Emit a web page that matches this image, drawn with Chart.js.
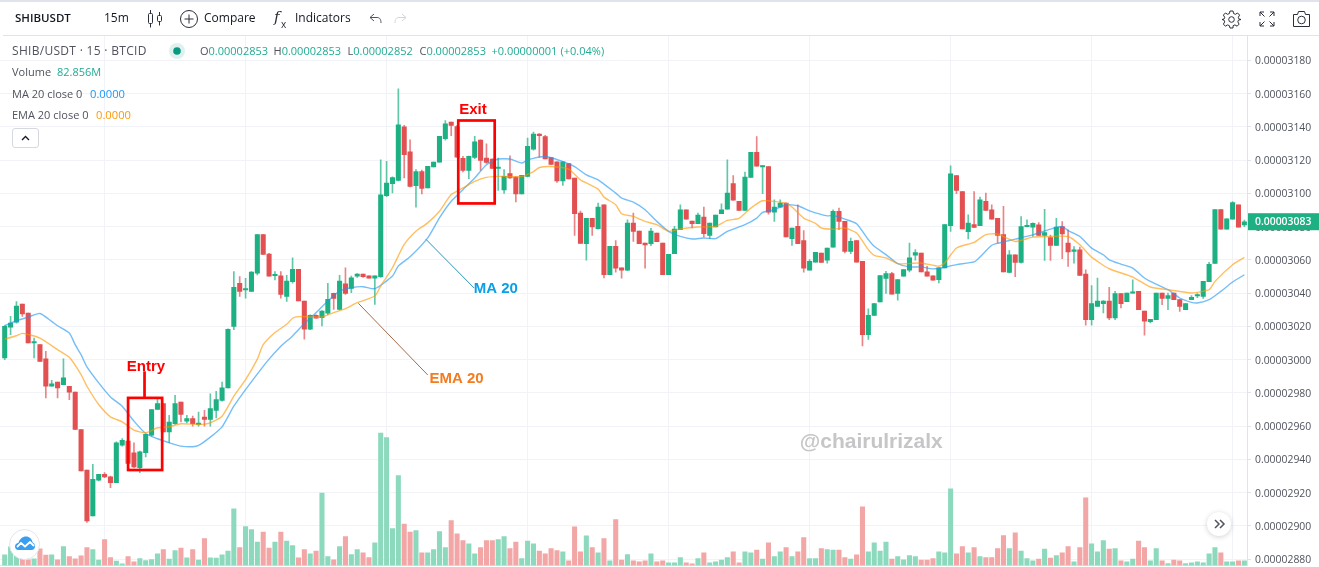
<!DOCTYPE html>
<html>
<head>
<meta charset="utf-8">
<title>SHIBUSDT</title>
<script src="https://cdn.jsdelivr.net/npm/chart.js@4"></script>
<style>
html,body{margin:0;padding:0;background:#fff;overflow:hidden;width:1319px;height:567px}
#c{position:absolute;left:0;top:0}
.t{position:absolute;white-space:pre;font-family:"Open Sans",sans-serif;font-size:11px;line-height:16px;color:#50535e}
.b{font-size:12px;color:#131722}
.g{color:#22ab94}
svg{position:absolute;overflow:visible}
#topline{position:absolute;left:0;top:0;width:1319px;height:2px;background:#e0e3eb}
#headline{position:absolute;left:3px;top:35px;width:1316px;height:1px;background:#e0e3eb}
#collapse{position:absolute;left:12px;top:128px;width:25px;height:18px;border:1px solid #d6d8e0;border-radius:3px;background:#fff}
#logo{position:absolute;left:9px;top:529px;width:29px;height:29px;border:1px solid #e3e5ea;border-radius:50%;background:#fff}
#next{position:absolute;left:1207px;top:512px;width:24px;height:24px;border-radius:50%;background:#fff;box-shadow:0 1px 5px rgba(40,50,70,.22)}
</style>
</head>
<body>
<canvas id="c" width="1319" height="567"></canvas>
<div id="topline"></div><div id="headline"></div>

<div class="t b" style="left:15px;top:10px;font-weight:600;font-size:11.5px">SHIBUSDT</div>
<div class="t b" style="left:104px;top:10px">15m</div>
<svg style="left:147px;top:10px" width="16" height="18" fill="none" stroke="#2a2e39" stroke-width="1"><rect x="1.5" y="3.5" width="4" height="10" rx="1"/><path d="M3.5 0v3.5M3.5 13.5v4"/><rect x="10.5" y="5.5" width="4" height="6" rx="1"/><path d="M12.5 2v3.5M12.5 11.5v4"/></svg>
<svg style="left:180px;top:10px" width="18" height="18" fill="none" stroke="#2a2e39" stroke-width="1"><circle cx="9" cy="9" r="8.5"/><path d="M9 4.5v9M4.5 9h9"/></svg>
<div class="t b" style="left:204px;top:10px">Compare</div>
<div class="t" style="left:274px;top:9px;color:#2a2e39;font-family:'DejaVu Serif',serif;font-style:italic;font-size:15px">f</div>
<div class="t" style="left:281px;top:16px;color:#2a2e39;font-size:10px">x</div>
<div class="t b" style="left:295px;top:10px">Indicators</div>
<svg style="left:369px;top:13px" width="13" height="11" fill="none" stroke="#50535e" stroke-width="1"><path d="M5 1L1 4.5 5 8M1 4.5h7c2.5 0 4 1.500 4 5.500"/></svg>
<svg style="left:394px;top:13px" width="13" height="11" fill="none" stroke="#d1d4dc" stroke-width="1"><path d="M8 1l4 3.500L8 8M12 4.500H5C2.500 4.500 1 6 1 10"/></svg>
<svg style="left:1222px;top:10px" width="19" height="19" fill="none" stroke="#2a2e39" stroke-width="1"><circle cx="9.500" cy="9.500" r="2.800"/><path d="M8 1h3l.6 2.500 1.800.8 2.200-1.300 2 2.100-1.300 2.200.7 1.800L19 9.500v0l-2.500.6-.7 1.800 1.300 2.200-2 2.100-2.200-1.300-1.800.8L11 18H8l-.6-2.300-1.800-.8-2.200 1.300-2-2.100 1.300-2.200-.7-1.800L0 9.500v0l2-.4.7-1.800L1.400 5.100l2-2.100 2.200 1.300 1.800-.8z"/></svg>
<svg style="left:1259px;top:11px" width="16" height="16" fill="none" stroke="#2a2e39" stroke-width="1"><path d="M1 5V1h4M1 1l4.500 4.500M11 1h4v4M15 1l-4.500 4.500M1 11v4h4M1 15l4.500-4.500M15 11v4h-4M15 15l-4.500-4.500"/></svg>
<svg style="left:1292px;top:10px" width="19" height="18" fill="none" stroke="#2a2e39" stroke-width="1"><path d="M1.500 4.500h4l1-3h6l1 3h4v12h-16z" stroke-linejoin="round"/><circle cx="9.500" cy="10" r="3.800"/></svg>

<div class="t" style="left:12px;top:43px;font-size:12px;letter-spacing:.3px">SHIB/USDT · 15 · BTCID</div>
<svg style="left:169px;top:43px" width="16" height="16"><circle cx="8" cy="8" r="8" fill="#dff1ee"/><circle cx="8" cy="8" r="3.800" fill="#089981"/></svg>
<div class="t" style="left:200px;top:43px">O<span class="g">0.00002853</span></div>
<div class="t" style="left:273.500px;top:43px">H<span class="g">0.00002853</span></div>
<div class="t" style="left:347.500px;top:43px">L<span class="g">0.00002852</span></div>
<div class="t" style="left:419.500px;top:43px">C<span class="g">0.00002853</span></div>
<div class="t g" style="left:491.500px;top:43px">+0.00000001</div>
<div class="t g" style="left:560.500px;top:43px">(+0.04%)</div>
<div class="t" style="left:12px;top:64px">Volume</div>
<div class="t g" style="left:57px;top:64px">82.856M</div>
<div class="t" style="left:12px;top:86px">MA 20 close 0</div>
<div class="t" style="left:90px;top:86px;font-size:11.2px;color:#2196f3">0.0000</div>
<div class="t" style="left:12px;top:107px">EMA 20 close 0</div>
<div class="t" style="left:96px;top:107px;font-size:11.2px;color:#ff9800">0.0000</div>
<div id="collapse"><svg style="left:8px;top:6px" width="9" height="6" fill="none" stroke="#131722" stroke-width="1.300"><path d="M1 5l3.500-3.500L8 5"/></svg></div>
<div id="logo"><svg style="left:5px;top:6px" width="20" height="15" viewBox="0 0 20 15"><path d="M3.500 14C1 14 0 12 0 10.500 0 8.500 1.500 7 3.500 6.800 4.500 3 7.500 0.500 11 0.500c3.500 0 6 2.500 6.500 5.700 1.500.6 2.500 2.300 2.500 4 0 2-1.500 3.800-3.500 3.800z" fill="#3a9ef0"/><path d="M2 11l4-4 4 3.500 5-4.500 4 4" fill="none" stroke="#fff" stroke-width="1.800"/></svg></div>
<div id="next"><svg style="left:7px;top:7px" width="11" height="10" fill="none" stroke="#50535e" stroke-width="1.500"><path d="M1 1l4 4-4 4M6 1l4 4-4 4"/></svg></div>

<script>
// Prices are in units of 0.00000001 USDT.
const opens = [
3001,3019.5,3022.5,3033.5,3028,3010,3009,3000.5,2984,2986.5,
2985,2984,2980.5,2958,2933.5,2906,2927.5,2931,2929.5,2926,
2948.5,2951,2944,2935,2944,2954.5,2970,2973.5,2956.5,2961.5,
2974.5,2963,2964.5,2961,2965.5,2964,2969.5,2975.5,2983,3020,
3046,3042,3041,3052,3075.3,3063.5,3050.5,3050.5,3038,3047,
3054.3,3035.3,3018.3,3026.7,3025.3,3028,3039.9,3030.3,3045.7,3042.9,
3050.3,3051.5,3050.5,3049.1,3049.9,3098.7,3105.9,3107.9,3140.1,3125.1,
3104.7,3113.1,3103.3,3115.9,3118.9,3132.9,3142.9,3140.3,3121.1,3113.9,
3121.7,3132.1,3121.3,3120.7,3115,3102.1,3111.9,3109.9,3099.7,3110.3,
3126.6,3135.8,3134.2,3121.6,3119,3107.6,3118,3109.2,3088.2,3069.8,
3085,3078.8,3093.2,3051.2,3068.2,3055.2,3053.8,3082.2,3077.4,3070.2,
3069.8,3076.2,3070.2,3051.2,3063.8,3078.2,3090.2,3083.4,3081.8,3085.8,
3074.8,3079.8,3087.8,3090.6,3106,3095.2,3089.8,3109.6,3124.8,3116,
3116.2,3088.8,3091.8,3094.2,3072.8,3080.2,3071.6,3053.8,3058.6,3064.2,
3059.8,3067.7,3089.2,3083.2,3065.2,3071.6,3059.2,3015,3026.6,3034.8,
3048.9,3051.8,3039.8,3050.2,3053.8,3062.9,3064.2,3052.9,3050.4,3048.2,
3055.2,3080.6,3110.8,3101.2,3077,3081.2,3080.6,3095.2,3090.2,3085,
3075.2,3052.5,3063.1,3058.5,3080,3079.7,3081.1,3074.7,3073.5,3068.7,
3080.1,3070.1,3065.2,3066.1,3051.5,3024.1,3032.1,3033.7,3035.3,3025.1,
3039.7,3034.9,3040,3041.1,3029.3,3022.9,3024.1,3040.1,3036.9,3040.1,
3036.1,3030.1,3036.1,3038.3,3038.1,3046.9,3057.9,3090.3,3078.5,3084.5,
3093.1,3081.1];
const highs = [
3020.5,3026,3035,3033.5,3028,3013,3009,3005,2987.5,2986.5,
3000.5,2984,2980.5,2958,2933.5,2937,2931,2932,2930,2950.5,
2952.5,2952,2950,2945,2955,2970,2976.5,2973.5,2966.5,2978.5,
2974.5,2966.5,2966,2968.5,2969.5,2979.5,2981,2986.5,3018.5,3053,
3050,3049,3053,3075.3,3075.3,3064,3053,3053,3050.7,3061.3,
3054.3,3035.3,3027,3027,3029.5,3045.9,3040,3050.7,3055.3,3050.3,
3051.8,3051.5,3050.5,3050.5,3120.3,3119.3,3110,3162.9,3141,3132.3,
3114.3,3114,3116.3,3118.9,3134.3,3143.9,3143,3141,3122.3,3122.5,
3134.3,3132.3,3129.9,3120.9,3121.3,3114.3,3122.7,3110,3110.9,3133.3,
3137,3136,3135,3121.6,3119,3119,3118,3109.2,3089.4,3085,
3085,3094.2,3093.2,3068.2,3071.6,3055.2,3084.2,3088.2,3077.4,3070.2,
3079,3076.2,3070.2,3063.4,3080.2,3093.2,3090.2,3083.4,3088.2,3091.8,
3082.2,3087,3093.8,3120.2,3110.8,3095.2,3112.8,3124.8,3134.2,3116.8,
3116.2,3096.2,3096.2,3094.2,3079.2,3093.2,3077.6,3060.2,3064.6,3064.2,
3067.2,3090.2,3091.2,3083.2,3073.2,3071.6,3059.2,3030.6,3033.8,3050.6,
3053.2,3052.6,3048.2,3054.2,3070.2,3066.2,3064.2,3056.2,3050.4,3055.2,
3081.2,3116.6,3110.8,3101.2,3087.2,3101.2,3097.8,3100.2,3093.2,3085,
3092.2,3065.6,3063.1,3086.1,3084.1,3082.3,3082.5,3090.5,3075,3085.1,
3083.1,3078.1,3068.1,3067.7,3054.1,3044.5,3049.1,3035.5,3043.5,3041.1,
3039.7,3040.1,3048.1,3041.1,3029.3,3024.3,3040.1,3040.1,3040.1,3040.1,
3036.1,3033.7,3038.5,3039.7,3047.1,3058.5,3090.3,3090.3,3084.7,3095.1,
3093.1,3084];
const lows = [
3000,3015,3022,3026,3010,3001,2999,2977,2984,2977,
2985,2976,2958,2933,2902,2906,2927,2929,2923,2926,
2948,2937,2935,2932,2941.5,2954,2970,2956.5,2950,2961,
2962.5,2962,2960,2960,2960,2960,2965,2975,2983,3018,
3038,3037,3041,3051,3063.3,3050.3,3048,3037,3035,3046,
3035.3,3012.3,3018,3025,3020.3,3027,3030.3,3030,3039.3,3040.3,
3049.5,3049.5,3049.1,3033.3,3049.5,3098,3100.3,3107.5,3109.3,3104,
3091.7,3099.7,3103.3,3115.9,3118.9,3132,3134.7,3121.9,3113,3108.9,
3121,3113.9,3118,3115,3101.9,3100,3109,3094.9,3099.7,3110,
3126,3121.8,3120.8,3117.4,3106.6,3104.8,3108.8,3074.8,3070,3059.8,
3074.8,3078.5,3049.2,3051.2,3052.6,3049,3053.5,3071.2,3069.8,3055,
3068.6,3071,3051.2,3051.2,3063.8,3078.2,3084.6,3079.2,3081.8,3073.8,
3072.8,3079.8,3087.8,3090.6,3096,3089.8,3089.8,3109.6,3116.4,3099.8,
3087.6,3083.2,3091.8,3073.8,3068.8,3069.8,3052.6,3053.8,3058.6,3058.5,
3058,3067.7,3078.2,3064.2,3063.8,3058.6,3008.2,3012.2,3026.6,3034.8,
3039.8,3039.4,3035.8,3050.2,3052.8,3059.8,3052.8,3050.2,3047.8,3046.2,
3055.2,3077.2,3099.8,3078.6,3072.6,3079.6,3080.6,3089.8,3084.6,3070.2,
3052.8,3052.2,3050,3058,3079.8,3074.1,3074.7,3059.7,3059.7,3068.7,
3060.7,3056.1,3058.1,3050.7,3020.7,3020.7,3032.1,3028.1,3024,3024,
3031.1,3034.9,3040,3030.1,3014.7,3022.1,3024.1,3033.1,3030.1,3036.1,
3029.1,3030.1,3036.1,3037.3,3036.9,3046.9,3057.9,3078.5,3078.5,3084.5,
3079.7,3080];
const closes = [
3020,3022,3032.3,3027.5,3010,3010.5,2999,2984,2985.5,2983,
2989,2980.5,2958,2933,2903,2928,2931,2929.5,2926,2950,
2951.5,2937.5,2935.5,2944.5,2955,2970,2973.5,2956.5,2962.5,2973.5,
2967,2964.5,2961.5,2961.5,2964,2970.5,2976,2983,3018.3,3043.5,
3041,3042.5,3052.7,3075.3,3063.3,3050.3,3051,3039.3,3047.3,3054.3,
3035.3,3018.3,3026.7,3025,3029.3,3036.3,3036.9,3047.3,3039.9,3049.3,
3051.5,3049.9,3049.1,3050.5,3099.1,3106.3,3109.5,3141.3,3123.3,3104.3,
3113.1,3103.1,3116.3,3118.9,3134.3,3141.9,3140.9,3121.9,3113.9,3122.3,
3131.1,3119.9,3118.7,3115.1,3115.5,3110.3,3109.3,3099.7,3110.9,3128.3,
3135.8,3134.8,3120.8,3117.4,3107.6,3119,3108.8,3087.8,3070,3085,
3079.8,3091.8,3051.2,3068.2,3055,3053.8,3082.2,3077.2,3069.8,3069,
3077.4,3071,3051.2,3063.4,3078.6,3090.2,3084.6,3081.8,3087,3075.8,
3082.2,3087,3090.2,3100.2,3096,3089.8,3109.8,3124.8,3116.4,3116.6,
3088.8,3091.8,3094.2,3073.8,3079.2,3069.8,3055,3059.2,3064.6,3058.5,
3067.2,3089.2,3083.2,3065.2,3071.2,3058.6,3015,3026.6,3033.8,3050.6,
3051.8,3039.4,3048.2,3054.2,3061.2,3064.5,3052.8,3050.2,3047.8,3055.2,
3081.2,3111.8,3101.8,3078.6,3082.2,3079.6,3096.2,3089.8,3084.6,3074.8,
3052.8,3063.1,3058.5,3080.1,3080.4,3082.1,3074.7,3076.5,3068.7,3079.7,
3075.7,3064.9,3065.6,3050.7,3024.1,3033.7,3035.3,3035.3,3025.1,3039.7,
3033.7,3040.1,3040.4,3030.1,3023.1,3024.3,3040.1,3036.9,3038.5,3036.1,
3032.1,3033.7,3037.5,3038.7,3047.1,3057.3,3090.3,3078.5,3084.7,3094.5,
3079.7,3083];
// Volumes in millions of SHIB.
const volumes = [
192,336,180,120,102,120,300,186,192,102,
342,162,120,174,324,288,96,468,144,78,
30,162,66,126,90,108,210,288,114,270,
312,138,288,96,486,138,132,192,258,1020,
324,702,648,420,600,312,420,600,438,360,
138,288,210,258,1302,162,102,342,522,198,
288,228,144,408,2382,2304,666,1620,744,600,
630,228,228,288,612,324,810,570,450,390,
210,324,450,450,468,522,306,420,126,438,
390,258,210,306,270,246,84,696,246,534,
324,228,486,84,828,96,198,84,66,84,
210,66,84,48,48,144,48,30,126,228,
48,66,96,144,246,48,246,228,276,114,
408,162,246,324,162,246,504,126,126,306,
288,276,276,144,114,192,1056,246,408,258,
420,114,162,102,180,162,96,96,126,246,
228,1380,210,342,228,324,162,144,144,306,
540,306,588,258,126,84,114,294,132,180,
228,342,66,324,1218,390,246,450,294,306,
84,66,114,438,324,84,306,84,36,96,
84,36,48,66,48,210,324,228,66,66,
84,83];
// Moving averages at the listed bars.
const maBars = [0,2,4,6,8,9,11,12,13,14,16,18,20,22,24,26,28,30,32,33,35,37,39,41,44,45,47,49,51,53,55,57,59,61,63,66,67,69,72,74,76,78,80,82,84,86,88,89,92,95,97,99,101,104,105,107,109,111,113,115,117,119,121,123,126,128,129,131,133,135,137,140,141,143,145,147,148,150,152,154,156,158,160,162,165,166,168,169,172,175,178,180,181,183,185,187,188,190,192,194,195,198,200,202,203,205,207,209,211];
const maValues = [3020.4,3023.4,3025.6,3027.8,3023,3020.4,3016,3009,3003,2995.6,2986,2977.6,2972,2963,2955.6,2952.4,2950,2948,2947.6,2948.4,2953.4,2959.6,2972,2982,2996,3000.3,3008,3014.3,3021.7,3028.3,3035.3,3041.3,3043.3,3043.9,3042.7,3050.3,3056.3,3061.9,3073.3,3085.3,3095.3,3102.3,3109.3,3117.3,3120.7,3120.7,3118.3,3120.2,3122.2,3119.2,3116.2,3111.2,3108.2,3100.2,3097.2,3094.8,3090.2,3083.2,3077.2,3074.2,3072.6,3073.2,3072.8,3077.2,3081.2,3085.2,3088.6,3090.2,3093.2,3092.6,3089.5,3086.5,3086.8,3084.6,3081.8,3072.2,3068.2,3063.2,3057.8,3055.8,3055.8,3054.6,3055.6,3057.2,3058.8,3061.8,3068.8,3070,3072.5,3075.1,3078.5,3080.1,3077.7,3074.1,3067.1,3063.1,3060.1,3057.5,3055.1,3049.1,3047.1,3042.1,3037.1,3034.5,3034.1,3036.1,3041.1,3046.7,3051.1];
const emaBars = [0,2,3,6,9,11,13,14,16,18,20,22,24,26,28,30,33,35,37,39,41,43,44,46,48,49,50,52,54,56,58,60,63,64,66,68,70,72,74,76,78,80,82,84,88,90,91,93,96,98,101,102,104,105,107,109,111,113,115,118,121,123,125,127,129,133,134,136,138,139,141,143,145,147,148,150,152,154,156,159,160,162,165,167,169,172,175,178,181,183,185,188,192,195,198,202,205,206,209,211];
const emaValues = [3012.4,3014.4,3015.8,3013,3006,3001.4,2991,2984,2973,2965.6,2962.6,2957.6,2956,2959,2959.6,2961.4,2961,2962,2966,2978,2988,3000.3,3009,3016.3,3021.3,3024.9,3025.9,3025.7,3025.7,3028.3,3030.7,3034.3,3038.3,3044.3,3055.3,3069.3,3077.3,3082.3,3089.3,3099.3,3103.3,3107.3,3109.7,3110.3,3110.2,3113.2,3115.6,3116.2,3114.6,3108.2,3102.6,3097.8,3093.2,3087.8,3086.2,3083.2,3081.2,3077.2,3078.6,3079.8,3080.2,3083.8,3085,3091.2,3095.6,3094.2,3091.8,3085.2,3082,3079.2,3078.5,3079.2,3076.2,3066.2,3062.8,3061.2,3057.8,3057.8,3058.2,3056.2,3058.2,3067.2,3070.6,3075.2,3075.6,3071.1,3073.7,3074.1,3074.1,3069.1,3061.7,3054.7,3049.7,3043.7,3042.1,3040.1,3042.1,3047.1,3057.1,3061.5];
const priceTicks = [3180,3160,3140,3120,3100,3080,3060,3040,3020,3000,2980,2960,2940,2920,2900,2880];
const gridBars = [5,29,53,77,101,125,149,173,197];

const GREEN='#1cb083', RED='#e25052', GREEN_V='#8cd9bd', RED_V='#f2a6a6', GRID='#f1f3f8', AXIS='#e0e3eb';
const up = opens.map((o,i)=>closes[i]>=o);
const pts = (xs,ys)=>xs.map((x,i)=>({x,y:ys[i]}));
const noPad = s=>{s.paddingTop=0;s.paddingBottom=0;s.paddingLeft=0;s.paddingRight=0;};

const notes = {
  id:'notes',
  afterDraw(chart){
    const {ctx,scales:{x,y}} = chart;
    const X=v=>x.getPixelForValue(v), Y=v=>y.getPixelForValue(v);
    ctx.save();
    // entry / exit boxes, in bars and prices
    ctx.strokeStyle='#ff0000'; ctx.lineWidth=2.7;
    ctx.strokeRect(X(21),Y(2977),X(26.8)-X(21),Y(2933.6)-Y(2977));
    ctx.strokeRect(X(77.2),Y(3143.9),X(83.4)-X(77.2),Y(3094)-Y(3143.9));
    ctx.beginPath(); ctx.moveTo(X(23.8),Y(2993)); ctx.lineTo(X(23.8),Y(2977)); ctx.stroke();
    // call-out lines
    ctx.lineWidth=1;
    ctx.strokeStyle='#2f93b5';
    ctx.beginPath(); ctx.moveTo(X(71.7),Y(3072.4)); ctx.lineTo(X(79.9),Y(3043.1)); ctx.stroke();
    ctx.strokeStyle='#a56a45';
    ctx.beginPath(); ctx.moveTo(X(60.2),Y(3033.9)); ctx.lineTo(X(72),Y(2990.8)); ctx.stroke();
    // notes
    ctx.textAlign='center'; ctx.textBaseline='middle';
    ctx.font='bold 15px "Liberation Sans"';
    ctx.fillStyle='#ff0000';
    ctx.fillText('Entry',X(24.05),Y(2995.6));
    ctx.fillText('Exit',X(79.7),Y(3150.2));
    ctx.fillStyle='#0a9fe8';
    ctx.fillText('MA 20',X(83.6),Y(3042.5));
    ctx.fillStyle='#f47b20';
    ctx.fillText('EMA 20',X(76.9),Y(2988.4));
    ctx.font='bold 21px "Liberation Sans"';
    ctx.fillStyle='#c6c6c8';
    ctx.fillText('@chairulrizalx',X(147.5),Y(2950.4));
    // last price label
    const last=closes[closes.length-1], py=Y(last);
    ctx.fillStyle='#1cb083';
    ctx.fillRect(x.right+1,py-8.5,72,17);
    ctx.fillStyle='#ffffff';
    ctx.textAlign='left';
    ctx.font='600 10.4px "Open Sans"';
    ctx.fillText((last/1e8).toFixed(8),1255,py+0.5);
    ctx.restore();
  }
};

new Chart(document.getElementById('c'),{
  type:'bar',
  data:{datasets:[
    {type:'line',label:'EMA 20',data:pts(emaBars,emaValues),yAxisID:'y',borderColor:'rgba(255,152,0,.62)',borderWidth:1.4,pointRadius:0,tension:.2,order:0},
    {type:'line',label:'MA 20',data:pts(maBars,maValues),yAxisID:'y',borderColor:'rgba(33,150,243,.62)',borderWidth:1.4,pointRadius:0,tension:.2,order:1},
    {label:'Body',data:closes.map((c,i)=>({x:i,y:[opens[i],c]})),yAxisID:'y',grouped:false,barThickness:4.4,minBarLength:1.4,backgroundColor:up.map(u=>u?GREEN:RED),order:2},
    {label:'Wick',data:highs.map((h,i)=>({x:i,y:[lows[i],h]})),yAxisID:'y',grouped:false,barThickness:1,backgroundColor:up.map(u=>u?'rgba(28,176,131,.7)':'rgba(226,80,82,.7)'),order:3},
    {label:'Volume',data:volumes.map((v,i)=>({x:i,y:v})),yAxisID:'v',grouped:false,barThickness:4.4,backgroundColor:up.map(u=>u?GREEN_V:RED_V),order:4}
  ]},
  options:{
    responsive:false,animation:false,devicePixelRatio:1,
    layout:{padding:{top:36,bottom:1.5,left:0,right:0}},
    plugins:{legend:{display:false},tooltip:{enabled:false}},
    scales:{
      x:{type:'linear',min:-0.8,max:211.45,bounds:'data',offset:false,
        grid:{color:GRID,drawTicks:false},border:{color:AXIS},
        ticks:{display:false,autoSkip:false},
        afterBuildTicks:s=>{s.ticks=gridBars.map(v=>({value:v}));},
        afterFit:s=>{s.height=0;noPad(s);}},
      y:{type:'linear',position:'right',min:2876.15,max:3194.74,bounds:'data',
        grid:{color:GRID,tickLength:4,tickColor:AXIS},border:{color:AXIS},
        ticks:{autoSkip:false,padding:4,labelOffset:1,color:'#50535e',font:{family:'"Open Sans"',size:10.4},
          callback:v=>(v/1e8).toFixed(8)},
        afterBuildTicks:s=>{s.ticks=priceTicks.map(v=>({value:v}));},
        afterFit:s=>{s.width=72;noPad(s);}},
      v:{type:'linear',display:false,position:'left',min:0,max:9531,bounds:'data',grid:{display:false}}
    }
  },
  plugins:[notes]
});
</script>
</body>
</html>
